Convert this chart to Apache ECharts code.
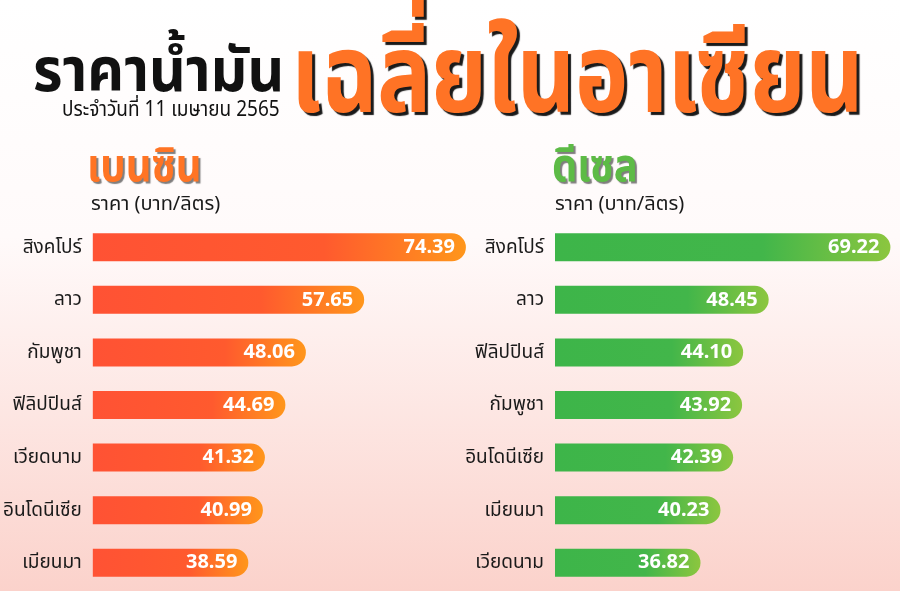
<!DOCTYPE html>
<html>
<head>
<meta charset="utf-8">
<script src="https://cdn.jsdelivr.net/npm/echarts@6/dist/echarts.min.js"></script>
<style>
html,body{margin:0;padding:0;}
#c{width:900px;height:591px;}
</style>
</head>
<body>
<div id="c"></div>
<script>
// ---- data ----
const benzinCountries = ['สิงคโปร์','ลาว','กัมพูชา','ฟิลิปปินส์','เวียดนาม','อินโดนีเซีย','เมียนมา'];
const benzinPrices = [74.39, 57.65, 48.06, 44.69, 41.32, 40.99, 38.59];
const dieselCountries = ['สิงคโปร์','ลาว','ฟิลิปปินส์','กัมพูชา','อินโดนีเซีย','เมียนมา','เวียดนาม'];
const dieselPrices = [69.22, 48.45, 44.10, 43.92, 42.39, 40.23, 36.82];
const titleMain = 'ราคาน้ำมัน';
const titleBig = 'เฉลี่ยในอาเซียน';
const subtitle = 'ประจำวันที่ 11 เมษายน 2565';
const benzinTitle = 'เบนซิน';
const dieselTitle = 'ดีเซล';
const unitText = 'ราคา (บาท/ลิตร)';

const FONT = '"Noto Sans", "Noto Sans Thai", "DejaVu Sans", sans-serif';
const chart = echarts.init(document.getElementById('c'));

function grad(stops){
  return new echarts.graphic.LinearGradient(0,0,1,0, stops);
}
const orangeBar = grad([{offset:0,color:'#ff5234'},{offset:0.62,color:'#ff5a2e'},{offset:1,color:'#ff961b'}]);
const greenBar = grad([{offset:0,color:'#3db549'},{offset:0.62,color:'#42b64a'},{offset:1,color:'#8cc63f'}]);

const yAxisCommon = {
  type:'category', inverse:true,
  axisLine:{show:false}, axisTick:{show:false}, splitLine:{show:false},
  axisLabel:{color:'#1a1a1a', fontSize:19, margin:11, fontFamily:FONT}
};
const labelCommon = {
  show:true, position:'insideRight', distance:11,
  color:'#ffffff', fontSize:20, fontWeight:'bold', fontFamily:FONT,
  formatter: p => p.value.toFixed(2)
};

function shadowStyle(color, off, blur){
  return {shadowColor:color, shadowOffsetX:off, shadowOffsetY:off, shadowBlur:blur,
          textShadowColor:color, textShadowOffsetX:off, textShadowOffsetY:off, textShadowBlur:blur};
}

const option = {
  backgroundColor: new echarts.graphic.LinearGradient(0,0,0,1,[
    {offset:0,color:'#ffffff'},{offset:0.4,color:'#fffafa'},{offset:1,color:'#fbd2cb'}
  ]),
  graphic:[
    {type:'text', x:33, y:44, scaleY:1.05, style:{text:titleMain, fill:'#111', font:'bold 57px '+FONT, verticalAlign:'top'}},
    {type:'text', x:62, y:100, scaleY:1.1, style:{text:subtitle, fill:'#111', font:'19px '+FONT, verticalAlign:'top'}},
    {type:'text', x:291, y:25, scaleY:1.23, style:Object.assign({text:titleBig, font:'bold 90px '+FONT, verticalAlign:'top',
      fill:'#ff7325'}, shadowStyle('#1a1a1a', 3, 1))},
    {type:'text', x:87, y:145, scaleY:1.15, style:Object.assign({text:benzinTitle, font:'bold 40px '+FONT, verticalAlign:'top',
      fill:'#ff7424'}, shadowStyle('rgba(0,0,0,0.5)', 2, 1))},
    {type:'text', x:91, y:194, style:{text:unitText, fill:'#1a1a1a', font:'20px '+FONT, verticalAlign:'top'}},
    {type:'text', x:552, y:145, scaleY:1.15, style:Object.assign({text:dieselTitle, font:'bold 40px '+FONT, verticalAlign:'top',
      fill:'#5dbb46'}, shadowStyle('rgba(0,0,0,0.5)', 2, 1))},
    {type:'text', x:555, y:194, style:{text:unitText, fill:'#1a1a1a', font:'20px '+FONT, verticalAlign:'top'}}
  ],
  grid:[
    {left:91, top:221, width:409, height:368},
    {left:555, top:221, width:340, height:368}
  ],
  xAxis:[
    {gridIndex:0, type:'value', min:13, max:80, show:false},
    {gridIndex:1, type:'value', min:12, max:70, show:false}
  ],
  yAxis:[
    Object.assign({gridIndex:0, data:benzinCountries}, yAxisCommon),
    Object.assign({gridIndex:1, data:dieselCountries}, yAxisCommon)
  ],
  series:[
    {type:'bar', xAxisIndex:0, yAxisIndex:0, data:benzinPrices, barWidth:28,
     itemStyle:{color:orangeBar, borderRadius:[0,14,14,0]}, label:labelCommon},
    {type:'bar', xAxisIndex:1, yAxisIndex:1, data:dieselPrices, barWidth:28,
     itemStyle:{color:greenBar, borderRadius:[0,14,14,0]}, label:labelCommon}
  ]
};
chart.setOption(option);
</script>
</body>
</html>
